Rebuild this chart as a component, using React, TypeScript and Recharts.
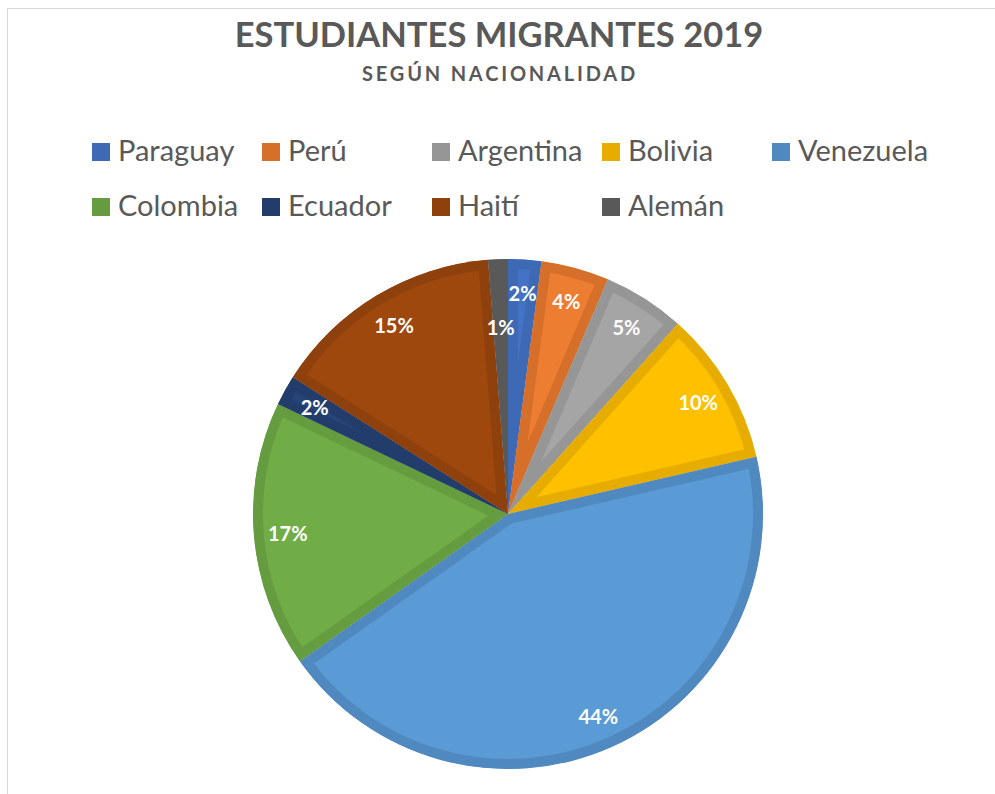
import React from 'react';
import { PieChart, Pie, Cell, Sector } from 'recharts';

const NAMES = ['Paraguay', 'Perú', 'Argentina', 'Bolivia', 'Venezuela', 'Colombia', 'Ecuador', 'Haití', 'Alemán'];
const VALUES = [2.1, 4.3, 5.2, 9.8, 43.8, 16.9, 1.9, 14.75, 1.25];
const FILLS = ['#4472C4', '#ED7D31', '#A5A5A5', '#FFC000', '#5B9BD5', '#70AD47', '#264478', '#9E480E', '#636363'];
const BORDERS = ['#3E69B5', '#D66F2A', '#969696', '#E6AD00', '#5089C0', '#659C40', '#223D6C', '#8E410C', '#595959'];

const data = NAMES.map((name, i) => ({ name, value: VALUES[i] }));

const TEXT = '#595959';
const FONT = 'Lato, "Open Sans", sans-serif';
const RAD = Math.PI / 180;

const renderSlice = (props: any) => {
  const { cx, cy, innerRadius, outerRadius, startAngle, endAngle, fill, stroke } = props;
  const name = props.name ?? props.payload?.name;
  const id = `slice-clip-${NAMES.indexOf(name)}`;
  return (
    <g>
      <defs>
        <clipPath id={id}>
          <Sector cx={cx} cy={cy} innerRadius={innerRadius} outerRadius={outerRadius} startAngle={startAngle} endAngle={endAngle} />
        </clipPath>
      </defs>
      <Sector
        cx={cx}
        cy={cy}
        innerRadius={innerRadius}
        outerRadius={outerRadius}
        startAngle={startAngle}
        endAngle={endAngle}
        fill={fill}
        stroke={stroke}
        strokeWidth={20}
        clipPath={`url(#${id})`}
      />
    </g>
  );
};

const renderLabel = (props: any) => {
  const { cx, cy, midAngle, outerRadius, percent } = props;
  // tiny slices get pulled in a bit so they don't collide with neighbours
  const r = percent < 0.015 ? outerRadius - 68 : outerRadius - 34;
  const x = cx + r * Math.cos(-midAngle * RAD);
  const y = cy + r * Math.sin(-midAngle * RAD);
  return (
    <text x={x} y={y} fill="#fff" fontSize={20} fontWeight={700} fontFamily={FONT} textAnchor="middle" dominantBaseline="central">
      {`${Math.round(percent * 100)}%`}
    </text>
  );
};

const LEGEND_COLS = 5;

export default function App() {
  return (
    <div style={{ position: 'absolute', left: 0, top: 0, width: 995, height: 794, overflow: 'hidden', background: '#fff' }}>
      <div style={{ position: 'absolute', left: 7, top: 8, width: 1000, height: 800, border: '1px solid #d9d9d9' }} />
      <svg width={995} height={240} style={{ position: 'absolute', left: 0, top: 0 }}>
        <text x={499} y={47} textAnchor="middle" fill={TEXT} fontFamily={FONT} fontWeight={700} fontSize={34.5}>
          ESTUDIANTES MIGRANTES 2019
        </text>
        <text x={500} y={81} textAnchor="middle" fill={TEXT} fontFamily={FONT} fontWeight={700} fontSize={20} letterSpacing={2.8}>
          SEGÚN NACIONALIDAD
        </text>
        {NAMES.map((name, i) => {
          const col = i % LEGEND_COLS;
          const row = Math.floor(i / LEGEND_COLS);
          const x = 92 + col * 170;
          const y = 143 + row * 55;
          return (
            <g key={name}>
              <rect x={x} y={y} width={18} height={18} fill={BORDERS[i]} />
              <text x={x + 26} y={y + 18} fill={TEXT} fontFamily={FONT} fontSize={29}>
                {name}
              </text>
            </g>
          );
        })}
      </svg>
      <div style={{ position: 'absolute', left: 0, top: 0 }}>
        <PieChart width={995} height={794}>
          <Pie
            data={data}
            dataKey="value"
            nameKey="name"
            cx={503}
            cy={509}
            outerRadius={255}
            startAngle={90}
            endAngle={-270}
            shape={renderSlice}
            label={renderLabel}
            labelLine={false}
            isAnimationActive={false}
          >
            {data.map((d, i) => (
              <Cell key={d.name} fill={FILLS[i]} stroke={BORDERS[i]} />
            ))}
          </Pie>
        </PieChart>
      </div>
    </div>
  );
}
